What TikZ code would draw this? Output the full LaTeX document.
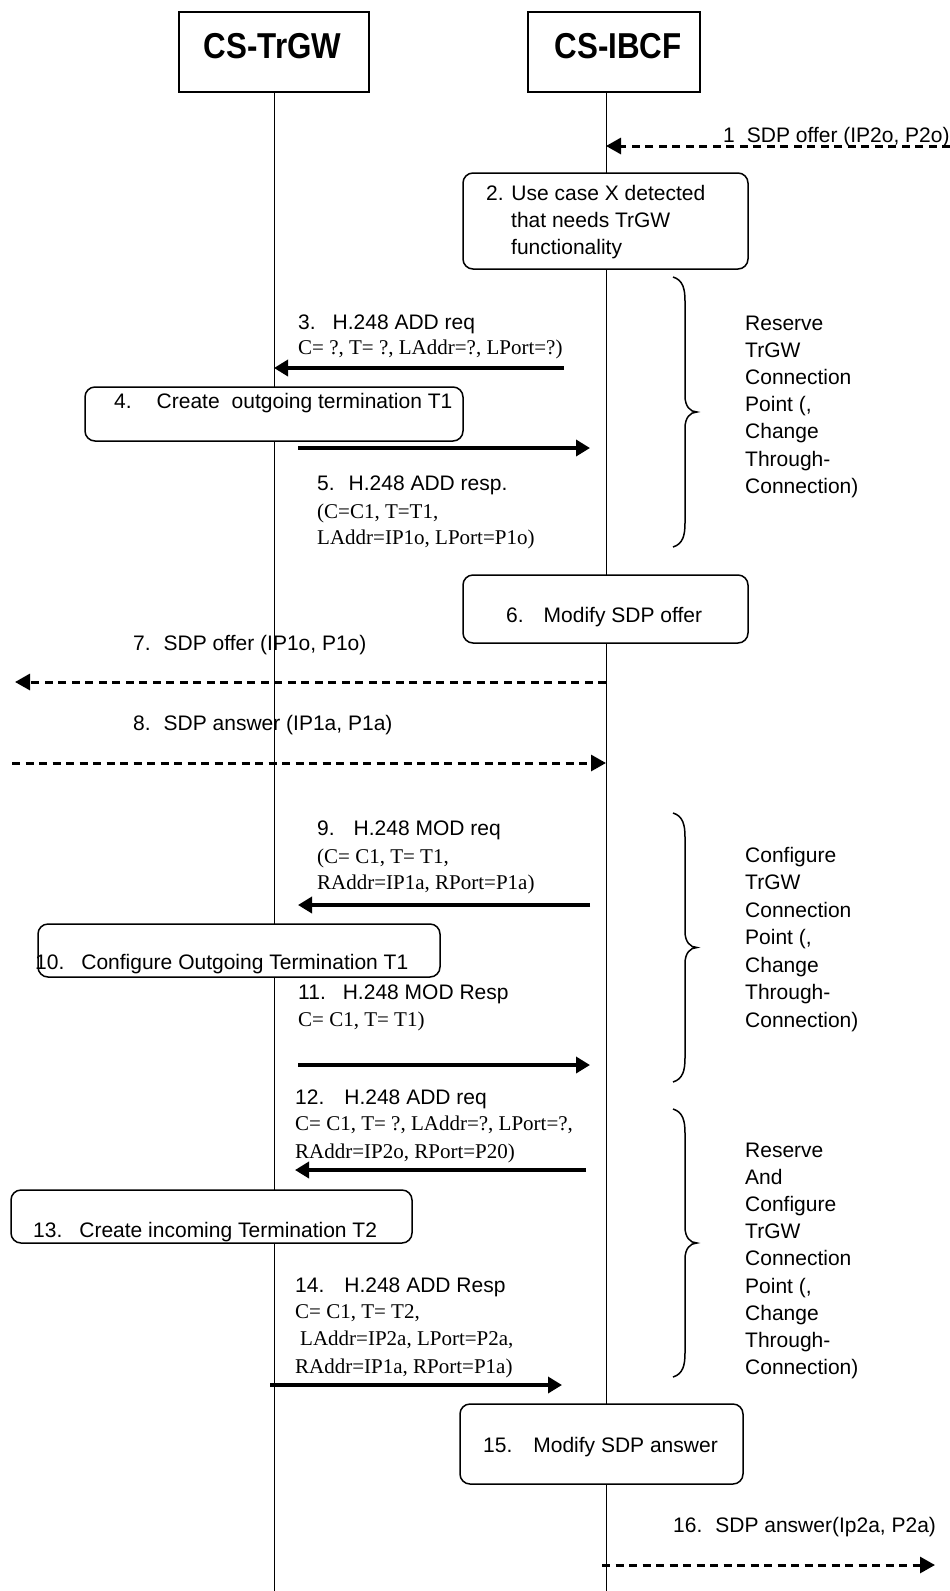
\documentclass[tikz,border=0pt]{standalone}
\usepackage{fontspec}
\setmainfont{Liberation Sans}
\newfontfamily\tms{Liberation Serif}
\usetikzlibrary{arrows.meta}
\tikzset{
 hdrbox/.style={draw, line width=1.5pt, fill=white, inner sep=0pt},
 hdrtxt/.style={inner sep=0pt, font=\bfseries\fontsize{36}{36}\selectfont},
 proc/.style={draw, line width=1.5pt, rounded corners=10pt, fill=white, inner sep=0pt},
 life/.style={line width=1pt},
 msg/.style={line width=3.5pt, -{Triangle[length=14pt,width=16pt]}},
 dmsg/.style={line width=3pt, dash pattern=on 8pt off 5.5pt, -{Triangle[length=15pt,width=16pt]}},
 lbl/.style={anchor=base west, inner sep=0pt, font=\fontsize{21}{25}\selectfont},
 prm/.style={anchor=base west, inner sep=0pt, font=\tms\fontsize{21}{25}\selectfont},
 bracepath/.style={line width=1.5pt},
}
\newcommand{\sidebrace}[3]{% x, top, bottom
 \draw[bracepath] (#1,#2) .. controls (#1+10,#2+3) and (#1+12,#2+12) .. (#1+12,#2+24)
   -- (#1+12,{(#2+#3)/2-16}) .. controls (#1+12,{(#2+#3)/2-6}) and (#1+17,{(#2+#3)/2}) .. (#1+24,{(#2+#3)/2})
   .. controls (#1+17,{(#2+#3)/2}) and (#1+12,{(#2+#3)/2+6}) .. (#1+12,{(#2+#3)/2+16})
   -- (#1+12,#3-24) .. controls (#1+12,#3-12) and (#1+10,#3-3) .. (#1,#3);}
\newcommand{\hgap}[1]{\hspace{#1pt}}
\begin{document}
\begin{tikzpicture}[x=1pt,y=-1pt]
\useasboundingbox (0,0) rectangle (950,1591);
\fill[white] (0,0) rectangle (950,1591);
% headers
\node[hdrbox, minimum width=190pt, minimum height=80pt] (trgw) at (274,52) {};
\node[hdrbox, minimum width=172pt, minimum height=80pt] (ibcf) at (614,52) {};
\node[hdrtxt] (trgwt) at (272.5,46) {\scalebox{0.87}[1]{CS-TrGW}};
\node[hdrtxt] (ibcft) at (618,46) {\scalebox{0.87}[1]{CS-IBCF}};
% lifelines
\coordinate (bot) at (0,1591);
\coordinate (ibtop) at (606,92);
\draw[life] (trgw.south) -- (trgw.south |- bot);
\draw[life] (ibtop) -- (ibtop |- bot);
% message 1
\coordinate (m1a) at (950,146); \coordinate (m1b) at (606,146);
\draw[dmsg] (m1a) -- (m1b);
\node[lbl] (t1) at (723,142) {1\hgap{12}SDP offer (IP2o, P2o)};
% box 2
\node[proc, minimum width=285pt, minimum height=96pt] (b2) at (605.5,221) {};
\node[lbl] (t2a) at (486,200) {2. Use case X detected};
\node[lbl] (t2b) at (511,227) {that needs TrGW};
\node[lbl] (t2c) at (511,254) {functionality};
% brace 1
\sidebrace{673}{277}{547}
\foreach \t [count=\i from 0] in {Reserve,TrGW,Connection,{Point (,},Change,Through-,Connection)}
  \node[lbl] (br1\i) at (745,{330+27.2*\i}) {\t};
% message 3
\node[lbl] (t3) at (298,329) {3.\hgap{17}H.248 ADD req};
\node[prm] (t3p) at (298,354) {C= ?, T= ?, LAddr=?, LPort=?)};
\coordinate (m3a) at (564,368); \coordinate (m3b) at (274,368);
\draw[msg] (m3a) -- (m3b);
% box 4
\node[proc, minimum width=378pt, minimum height=54pt] (b4) at (274,414) {};
\node[lbl] (t4) at (114,408) {4.\hgap{25}Create\hgap{12}outgoing termination T1};
% message 5
\coordinate (m5a) at (298,448); \coordinate (m5b) at (590,448);
\draw[msg] (m5a) -- (m5b);
\node[lbl] (t5) at (317,490) {5.\hgap{14}H.248 ADD resp.};
\node[prm] (t5p) at (317,518) {(C=C1, T=T1,};
\node[prm] (t5q) at (317,544) {LAddr=IP1o, LPort=P1o)};
% box 6
\node[proc, minimum width=285pt, minimum height=68pt] (b6) at (605.5,609) {};
\node[lbl] (t6) at (506,622) {6.\hgap{20}Modify SDP offer};
% message 7
\node[lbl] (t7) at (133,650) {7.\hgap{13}SDP offer (IP1o, P1o)};
\coordinate (m7a) at (606,682); \coordinate (m7b) at (15,682);
\draw[dmsg] (m7a) -- (m7b);
% message 8
\node[lbl] (t8) at (133,730) {8.\hgap{13}SDP answer (IP1a, P1a)};
\coordinate (m8a) at (12,763); \coordinate (m8b) at (606,763);
\draw[dmsg] (m8a) -- (m8b);
% message 9
\node[lbl] (t9) at (317,835) {9.\hgap{19}H.248 MOD req};
\node[prm] (t9p) at (317,863) {(C= C1, T= T1,};
\node[prm] (t9q) at (317,889) {RAddr=IP1a, RPort=P1a)};
\coordinate (m9a) at (590,905); \coordinate (m9b) at (298,905);
\draw[msg] (m9a) -- (m9b);
% brace 2
\sidebrace{673}{813}{1082}
\foreach \t [count=\i from 0] in {Configure,TrGW,Connection,{Point (,},Change,Through-,Connection)}
  \node[lbl] (br2\i) at (745,{862+27.5*\i}) {\t};
% box 10
\node[proc, minimum width=402pt, minimum height=53pt] (b10) at (239,950.5) {};
\node[lbl] (t10) at (35,969) {10.\hgap{17}Configure Outgoing Termination T1};
% message 11
\node[lbl] (t11) at (298,999) {11.\hgap{17}H.248 MOD Resp};
\node[prm] (t11p) at (298,1026) {C= C1, T= T1)};
\coordinate (m11a) at (298,1065); \coordinate (m11b) at (590,1065);
\draw[msg] (m11a) -- (m11b);
% message 12
\node[lbl] (t12) at (295,1104) {12.\hgap{20}H.248 ADD req};
\node[prm] (t12p) at (295,1130) {C= C1, T= ?, LAddr=?, LPort=?,};
\node[prm] (t12q) at (295,1158) {RAddr=IP2o, RPort=P20)};
\coordinate (m12a) at (586,1170); \coordinate (m12b) at (295,1170);
\draw[msg] (m12a) -- (m12b);
% brace 3
\sidebrace{673}{1109}{1377}
\foreach \t [count=\i from 0] in {Reserve,And,Configure,TrGW,Connection,{Point (,},Change,Through-,Connection)}
  \node[lbl] (br3\i) at (745,{1157+27.2*\i}) {\t};
% box 13
\node[proc, minimum width=401pt, minimum height=53pt] (b13) at (211.5,1216.5) {};
\node[lbl] (t13) at (33,1237) {13.\hgap{17}Create incoming Termination T2};
% message 14
\node[lbl] (t14) at (295,1292) {14.\hgap{20}H.248 ADD Resp};
\node[prm] (t14p) at (295,1318) {C= C1, T= T2,};
\node[prm] (t14q) at (300,1345) {LAddr=IP2a, LPort=P2a,};
\node[prm] (t14r) at (295,1373) {RAddr=IP1a, RPort=P1a)};
\coordinate (m14a) at (270,1385); \coordinate (m14b) at (562,1385);
\draw[msg] (m14a) -- (m14b);
% box 15
\node[proc, minimum width=283pt, minimum height=80pt] (b15) at (601.5,1444) {};
\node[lbl] (t15) at (483,1452) {15.\hgap{21}Modify SDP answer};
% message 16
\node[lbl] (t16) at (673,1532) {16.\hgap{13}SDP answer(Ip2a, P2a)};
\coordinate (m16a) at (602,1565); \coordinate (m16b) at (935,1565);
\draw[dmsg] (m16a) -- (m16b);
\end{tikzpicture}
\end{document}
